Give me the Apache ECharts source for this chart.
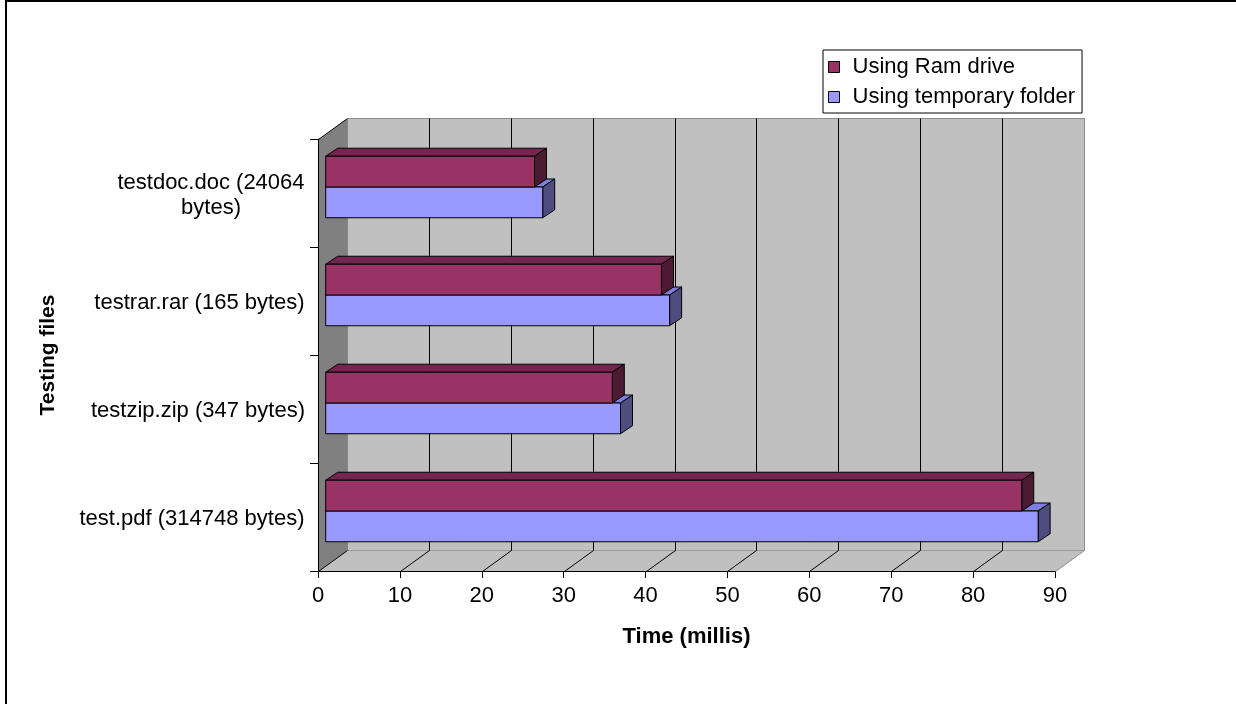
<!DOCTYPE html>
<html>
<head>
<meta charset="utf-8">
<script src="https://cdn.jsdelivr.net/npm/echarts@6/dist/echarts.min.js"></script>
<style>
  html, body { margin: 0; padding: 0; background: #fff; }
  #chart { width: 1236px; height: 704px; }
</style>
</head>
<body>
<div id="chart"></div>
<script>
// ---- data ----
const categories = [
  'test.pdf (314748 bytes)',
  'testzip.zip (347 bytes)',
  'testrar.rar (165 bytes)',
  'testdoc.doc (24064 bytes)'
];
const seriesNames = ['Using Ram drive', 'Using temporary folder'];
const ramDrive = [85, 35, 41, 25.5];
const tempFolder = [87, 36, 42, 26.5];
const xMin = 0, xMax = 90, xStep = 10;
const xTitle = 'Time (millis)';
const yTitle = 'Testing files';

// ---- styling ----
const FONT = '"Liberation Sans", Arial, Helvetica, sans-serif';
const FS = 22;
const DEPTH = [29, -21];        // wall depth offset
const BAR_SHIFT = [7.7, -6];    // bar front face offset from front plane
const BAR_DEPTH = [12, -8];     // bar thickness in depth
const BAR_FRAC = 0.285;         // bar height as a fraction of the band

const palette = {
  ram:  { front: '#993366', top: '#732650', side: '#4d1a33' },
  temp: { front: '#9999ff', top: '#7f7fdf', side: '#4d4d80' }
};

// wrap category labels and centre each line within its block
const mctx = document.createElement('canvas').getContext('2d');
mctx.font = FS + 'px ' + FONT;
const LABEL_MAX_W = 235;
const wrapped = categories.map(function (t) {
  const words = t.split(' ');
  const lines = [];
  let cur = '';
  words.forEach(function (w) {
    const test = cur ? cur + ' ' + w : w;
    if (cur && mctx.measureText(test).width > LABEL_MAX_W) {
      lines.push(cur);
      cur = w;
    } else {
      cur = test;
    }
  });
  if (cur) lines.push(cur);
  const w = Math.max.apply(null, lines.map(function (l) { return mctx.measureText(l).width; }));
  return { lines: lines, width: Math.ceil(w) };
});
const labelRich = {};
wrapped.forEach(function (wr, i) {
  labelRich['c' + i] = {
    width: wr.width, align: 'center', fontSize: FS, fontFamily: FONT,
    color: '#000', lineHeight: 25
  };
});

const px = function (v) { return Math.round(v) + 0.5; };

function line(x1, y1, x2, y2, color) {
  return {
    type: 'line',
    shape: { x1: x1, y1: y1, x2: x2, y2: y2 },
    style: { stroke: color, lineWidth: 1 },
    silent: true
  };
}

// back wall, side wall, floor and gridlines
function renderWalls(params, api) {
  const cs = params.coordSys;
  const x0 = px(cs.x), x1 = px(cs.x + cs.width);
  const yT = px(cs.y), yB = px(cs.y + cs.height);
  const dx = DEPTH[0], dy = DEPTH[1];
  const children = [];
  children.push({
    type: 'rect',
    shape: { x: x0 + dx, y: yT + dy, width: x1 - x0, height: yB - yT },
    style: { fill: '#c0c0c0', stroke: '#8c8c8c', lineWidth: 1 }
  });
  children.push({
    type: 'polygon',
    shape: { points: [[x0, yT], [x0 + dx, yT + dy], [x0 + dx, yB + dy], [x0, yB]] },
    style: { fill: '#808080' }
  });
  children.push({
    type: 'polygon',
    shape: { points: [[x0, yB], [x0 + dx, yB + dy], [x1 + dx, yB + dy], [x1, yB]] },
    style: { fill: '#c0c0c0' }
  });
  children.push(line(x0 + dx, yB + dy, x1 + dx, yB + dy, '#9a9a9a'));
  for (let v = xMin; v < xMax; v += xStep) {
    const xv = px(api.coord([v, 0])[0]);
    if (v > xMin) children.push(line(xv + dx, yT + dy, xv + dx, yB + dy, '#000'));
    children.push(line(xv, yB, xv + dx, yB + dy, '#000'));
  }
  children.push(line(x1, yB, x1 + dx, yB + dy, '#8c8c8c'));
  children.push(line(x0, yT, x0 + dx, yT + dy, '#000'));
  children.push(line(x0, yT, x0, yB, '#000'));
  children.push(line(x0, yB, x1, yB, '#000'));
  return { type: 'group', children: children };
}

// 3D bar: front face, top face and right face
function makeBarRenderer(colors, upper) {
  return function (params, api) {
    const cat = api.value(1);
    const c0 = api.coord([0, cat]);
    const c1 = api.coord([api.value(0), cat]);
    const band = api.size([0, 1])[1];
    const h = band * BAR_FRAC;
    const yc = c0[1] + BAR_SHIFT[1];
    const yTop = upper ? yc - h : yc;
    const yBot = yTop + h;
    const xa = c0[0] + BAR_SHIFT[0];
    const xb = c1[0] + BAR_SHIFT[0];
    const dx = BAR_DEPTH[0], dy = BAR_DEPTH[1];
    const edge = { stroke: '#000', lineWidth: 1, lineJoin: 'round' };
    return {
      type: 'group',
      children: [
        {
          type: 'polygon',
          shape: { points: [[xa, yTop], [xa + dx, yTop + dy], [xb + dx, yTop + dy], [xb, yTop]] },
          style: Object.assign({ fill: colors.top }, edge)
        },
        {
          type: 'polygon',
          shape: { points: [[xb, yTop], [xb + dx, yTop + dy], [xb + dx, yBot + dy], [xb, yBot]] },
          style: Object.assign({ fill: colors.side }, edge)
        },
        {
          type: 'rect',
          shape: { x: xa, y: yTop, width: xb - xa, height: h },
          style: Object.assign({ fill: colors.front }, edge)
        }
      ]
    };
  };
}

const chart = echarts.init(document.getElementById('chart'), null, { renderer: 'canvas' });

chart.setOption({
  animation: false,
  backgroundColor: '#fff',
  textStyle: { fontFamily: FONT },
  graphic: [{
    type: 'rect',
    shape: { x: 6, y: 1, width: 1300, height: 800 },
    style: { fill: null, stroke: '#000', lineWidth: 2 },
    z: 100,
    silent: true
  }],
  grid: { left: 318, right: 181, top: 139, bottom: 133, containLabel: false },
  legend: {
    orient: 'vertical',
    left: 823,
    top: 50,
    itemWidth: 11,
    itemHeight: 11,
    itemGap: 6,
    padding: [5, 7, 4, 5],
    borderColor: '#000',
    borderWidth: 1,
    backgroundColor: '#fff',
    itemStyle: { borderColor: '#000', borderWidth: 1 },
    textStyle: { fontSize: FS, fontFamily: FONT, color: '#000', lineHeight: 24, padding: [0, 0, 0, 8] },
    data: [
      { name: seriesNames[0], icon: 'rect' },
      { name: seriesNames[1], icon: 'rect' }
    ]
  },
  xAxis: {
    type: 'value',
    min: xMin,
    max: xMax,
    interval: xStep,
    axisLine: { show: true, lineStyle: { color: '#000', width: 1 } },
    axisTick: { show: true, length: 7, lineStyle: { color: '#000' } },
    splitLine: { show: false },
    axisLabel: { fontSize: FS, fontFamily: FONT, color: '#000', margin: 14 },
    name: xTitle,
    nameLocation: 'middle',
    nameGap: 66,
    nameTextStyle: {
      fontSize: FS, fontFamily: FONT, fontWeight: 'bold', color: '#000',
      align: 'center', verticalAlign: 'middle'
    }
  },
  yAxis: {
    type: 'category',
    data: categories,
    boundaryGap: true,
    axisLine: { show: true, lineStyle: { color: '#000', width: 1 } },
    axisTick: { show: true, length: 8, lineStyle: { color: '#000' } },
    splitLine: { show: false },
    axisLabel: {
      margin: 13,
      align: 'right',
      padding: [4, 0, 0, 0],
      formatter: function (value, index) {
        return wrapped[index].lines.map(function (l) { return '{c' + index + '|' + l + '}'; }).join('\n');
      },
      rich: labelRich
    },
    name: yTitle,
    nameLocation: 'middle',
    nameRotate: 90,
    nameGap: 270,
    nameTextStyle: {
      fontSize: 21, fontFamily: FONT, fontWeight: 'bold', color: '#000',
      align: 'center', verticalAlign: 'middle'
    }
  },
  series: [
    {
      type: 'custom',
      name: 'walls',
      silent: true,
      z: 1,
      renderItem: renderWalls,
      data: [[0, 0]],
      encode: { x: 0, y: 1 }
    },
    {
      type: 'custom',
      name: seriesNames[1],
      z: 2,
      itemStyle: { color: palette.temp.front },
      renderItem: makeBarRenderer(palette.temp, false),
      data: tempFolder.map(function (v, i) { return [v, i]; }),
      encode: { x: 0, y: 1 }
    },
    {
      type: 'custom',
      name: seriesNames[0],
      z: 3,
      itemStyle: { color: palette.ram.front },
      renderItem: makeBarRenderer(palette.ram, true),
      data: ramDrive.map(function (v, i) { return [v, i]; }),
      encode: { x: 0, y: 1 }
    }
  ]
});
</script>
</body>
</html>
